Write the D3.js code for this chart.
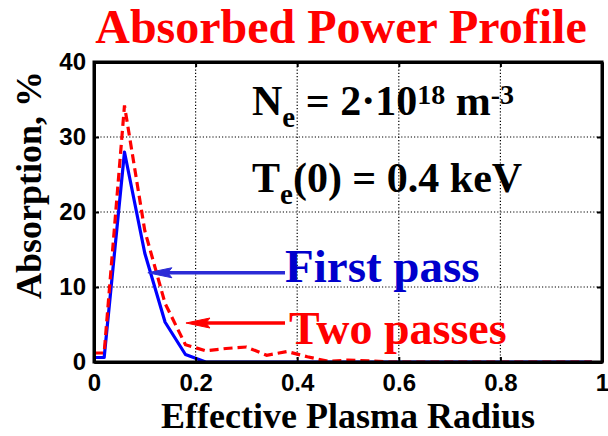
<!DOCTYPE html>
<html>
<head>
<meta charset="utf-8">
<script src="https://cdn.jsdelivr.net/npm/d3@7"></script>
<style>
  html, body { margin: 0; padding: 0; background: #fff; }
  svg { display: block; }
</style>
</head>
<body>
<svg id="chart" width="608" height="436"></svg>
<script>
// Effective plasma radius grid and absorbed power (%) per pass
const radius = [0, 0.02, 0.06, 0.10, 0.14, 0.18, 0.22, 0.26, 0.30, 0.34, 0.38, 0.42, 0.46,
                0.50, 0.54, 0.58, 0.62, 0.66, 0.70, 0.74, 0.78, 0.82, 0.86, 0.90, 0.94, 0.98];
const firstPass = [0.6, 0.6, 28.0, 14.5, 5.3, 1.0, 0, 0, 0, 0, 0, 0, 0,
                   0, 0, 0, 0, 0, 0, 0, 0, 0, 0, 0, 0, 0];
const twoPasses = [1.2, 1.2, 34.2, 17.5, 7.8, 2.3, 1.5, 1.8, 2.0, 0.9, 1.4, 0.7, 0.1,
                   0.25, 0.15, 0, 0, 0, 0, 0, 0, 0, 0, 0, 0, 0];

const xTicks = [0, 0.2, 0.4, 0.6, 0.8, 1];
const xTickLabels = ["0", "0.2", "0.4", "0.6", "0.8", "1"];
const yTicks = [0, 10, 20, 30, 40];
const yTickLabels = ["0", "10", "20", "30", "40"];

(function draw() {
  const svg = d3.select("#chart");
  const x = d3.scaleLinear().domain([0, 1]).range([94, 602]);
  const y = d3.scaleLinear().domain([0, 40]).range([362, 62]);
  const serif = "Liberation Serif";
  const sans = "Liberation Sans";

  // dotted grid
  const grid = svg.append("g").attr("stroke", "#000").attr("stroke-width", 1.2)
    .attr("stroke-dasharray", "1.2,2");
  grid.selectAll("line.gx").data(xTicks.slice(1, -1)).join("line").attr("class", "gx")
    .attr("x1", d => x(d)).attr("x2", d => x(d))
    .attr("y1", y(0)).attr("y2", y(40));
  grid.selectAll("line.gy").data(yTicks.slice(1, -1)).join("line").attr("class", "gy")
    .attr("x1", x(0)).attr("x2", x(1))
    .attr("y1", d => y(d)).attr("y2", d => y(d));

  // data lines
  const line = (vals) => d3.line().x((d, i) => x(radius[i])).y(d => y(d))(vals);
  svg.append("path").attr("d", line(firstPass))
    .attr("fill", "none").attr("stroke", "#0000ff").attr("stroke-width", 3.2)
    .attr("stroke-linejoin", "round");
  svg.append("path").attr("d", line(twoPasses))
    .attr("fill", "none").attr("stroke", "#ff0000").attr("stroke-width", 3.2)
    .attr("stroke-dasharray", "9,5");

  // axes box with inward ticks
  const axBottom = svg.append("g").attr("transform", `translate(0,${y(0)})`)
    .call(d3.axisBottom(x).tickValues(xTicks).tickFormat((d, i) => xTickLabels[i])
      .tickSizeInner(-5).tickSizeOuter(0).tickPadding(12));
  const axTop = svg.append("g").attr("transform", `translate(0,${y(40)})`)
    .call(d3.axisTop(x).tickValues(xTicks).tickFormat("").tickSizeInner(-5).tickSizeOuter(0));
  const axLeft = svg.append("g").attr("transform", `translate(${x(0)},0)`)
    .call(d3.axisLeft(y).tickValues(yTicks).tickFormat((d, i) => yTickLabels[i])
      .tickSizeInner(-5).tickSizeOuter(0).tickPadding(8));
  const axRight = svg.append("g").attr("transform", `translate(${x(1)},0)`)
    .call(d3.axisRight(y).tickValues(yTicks).tickFormat("").tickSizeInner(-5).tickSizeOuter(0));
  [axBottom, axTop, axLeft, axRight].forEach(g => {
    g.select(".domain").attr("stroke", "#000").attr("stroke-width", 3);
    g.selectAll(".tick line").attr("stroke", "#000").attr("stroke-width", 2);
    g.selectAll("text").style("font-family", sans)
      .style("font-weight", "bold").style("font-size", "24px").attr("fill", "#000");
  });
  svg.append("rect").attr("x", x(0)).attr("y", y(40))
    .attr("width", x(1) - x(0)).attr("height", y(0) - y(40))
    .attr("fill", "none").attr("stroke", "#000").attr("stroke-width", 3);

  const label = (sel, size, color) => sel.style("font-family", serif)
    .style("font-weight", "bold").style("font-size", size + "px").attr("fill", color);

  // title and axis labels
  label(svg.append("text").attr("x", 341).attr("y", 43).attr("text-anchor", "middle"), 48, "#ff0000")
    .text("Absorbed Power Profile");
  label(svg.append("text").attr("x", 348).attr("y", 428).attr("text-anchor", "middle"), 36, "#000")
    .text("Effective Plasma Radius");
  label(svg.append("text").attr("transform", "translate(41,185) rotate(-90)")
    .attr("text-anchor", "middle"), 36, "#000").text("Absorption, %");

  // plasma parameters
  const ne = label(svg.append("text").attr("x", 252).attr("y", 115), 42, "#000");
  ne.append("tspan").text("N");
  ne.append("tspan").style("font-size", "29px").attr("dy", 12).text("e");
  ne.append("tspan").attr("dy", -12).text(" = 2\u00B710");
  ne.append("tspan").style("font-size", "28px").attr("dy", -11).text("18");
  ne.append("tspan").attr("dy", 11).text(" m");
  ne.append("tspan").style("font-size", "28px").attr("dy", -11).text("-3");

  const te = label(svg.append("text").attr("x", 252).attr("y", 192), 42, "#000");
  te.append("tspan").text("T");
  te.append("tspan").style("font-size", "29px").attr("dy", 12).text("e");
  te.append("tspan").attr("dy", -12).text("(0) = 0.4 keV");

  // legend labels with arrows pointing at the curves
  const arrows = [
    { from: [0.376, 11.9], to: [0.106, 11.9], color: "#2b2bd6" },
    { from: [0.376, 5.2], to: [0.181, 5.2], color: "#ff0000" }
  ];
  arrows.forEach(a => {
    const x0 = x(a.from[0]), y0 = y(a.from[1]), x1 = x(a.to[0]), y1 = y(a.to[1]);
    svg.append("line").attr("x1", x0).attr("y1", y0).attr("x2", x1 + 18).attr("y2", y1)
      .attr("stroke", a.color).attr("stroke-width", 3.5);
    svg.append("path")
      .attr("d", `M${x1},${y1} L${x1 + 24},${y1 - 5} L${x1 + 20},${y1} L${x1 + 24},${y1 + 5} Z`)
      .attr("fill", a.color).attr("stroke", a.color).attr("stroke-width", 1);
  });

  label(svg.append("text").attr("x", 285).attr("y", 282), 47, "#0000cc").text("First pass");
  label(svg.append("text").attr("x", 289).attr("y", 344), 46, "#ff0000").text("Two passes");
})();
</script>
</body>
</html>
